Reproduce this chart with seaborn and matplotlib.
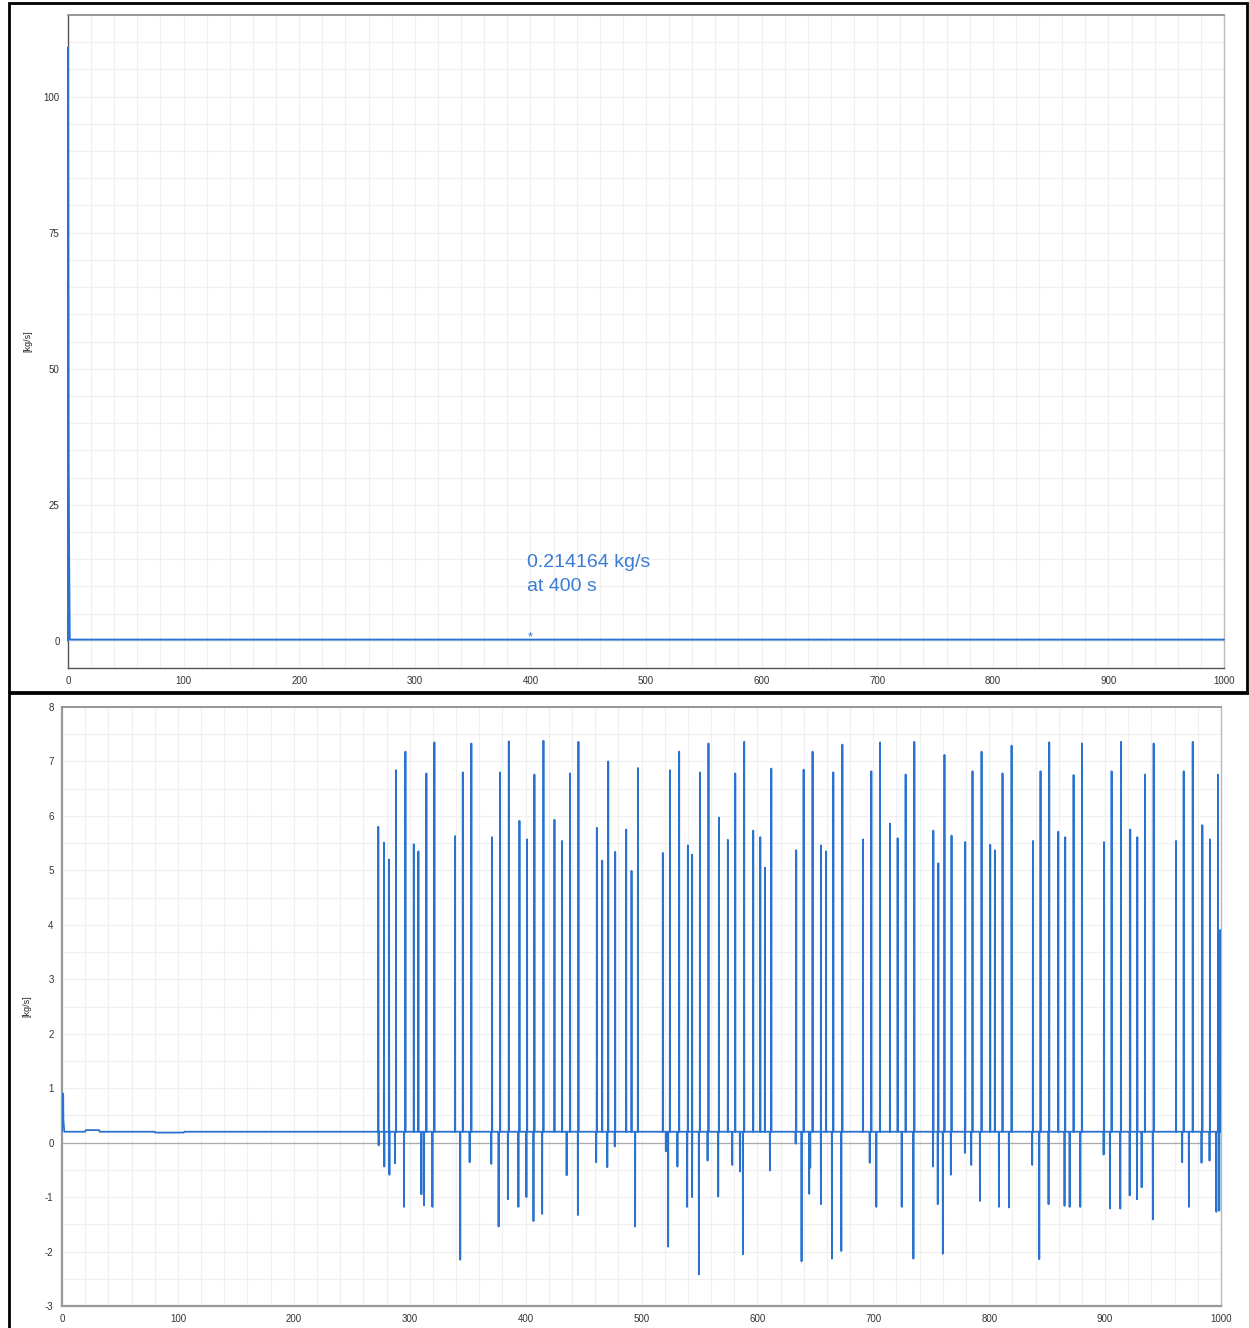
import numpy as np
import pandas as pd
import matplotlib
matplotlib.use("Agg")
import matplotlib.pyplot as plt
import seaborn as sns
from matplotlib.ticker import MultipleLocator
from matplotlib.patches import Rectangle

# top panel: mass flow, start-up transient then flat
top_t = [0.0, 0.0, 0.5, 1.0, 1.5, 2.0, 1000.0]
top_v = [0.0, 109.0, 34.0, 14.0, 0.3, 0.214164, 0.214164]
marker_t = 400
marker_v = 0.214164

# bottom panel: start transient + baseline bumps
start_t = [0.0, 0.0, 1.0, 1.2, 2.0, 20.0, 20.5, 32.0, 32.5, 80.0, 80.5, 105.0, 105.5, 1000.0]
start_v = [0.2, 0.9, 0.9, 0.42, 0.2, 0.2, 0.23, 0.23, 0.2, 0.2, 0.185, 0.185, 0.2, 0.2]
base = 0.2

# positive spikes (time, peak)
peak_t = [272.9, 277.8, 282.2, 288.2, 296.3, 303.5, 307.5, 314.4, 321.3,
          339.1, 345.8, 353.2, 371.1, 378.0, 385.5, 394.7, 401.3, 407.6, 415.4,
          424.9, 431.5, 438.4, 445.6, 461.5, 466.1, 471.3, 477.3, 486.8, 491.4, 496.9,
          518.4, 524.5, 532.5, 540.0, 543.7, 550.4, 557.8, 566.8, 574.5, 580.9, 588.6,
          596.4, 602.5, 606.5, 612.0, 633.5, 639.9, 647.6, 654.8, 659.2, 665.5, 673.3,
          691.1, 698.3, 705.8, 714.4, 721.0, 727.9, 735.4, 751.8, 756.1,
          761.4, 767.5, 779.3, 785.6, 793.4, 800.9, 804.9, 811.5, 819.3,
          837.7, 844.3, 851.8, 859.6, 865.6, 872.8, 880.0,
          899.0, 905.6, 913.7, 921.7, 927.8, 934.4, 941.9,
          961.2, 967.8, 975.6, 983.9, 990.5, 997.4, 999.3]
peak_v = [5.80, 5.51, 5.20, 6.84, 7.18, 5.48, 5.35, 6.78, 7.35,
          5.63, 6.80, 7.33, 5.61, 6.80, 7.37, 5.91, 5.57, 6.76, 7.38,
          5.93, 5.54, 6.78, 7.36, 5.78, 5.18, 7.00, 5.34, 5.75, 4.99, 6.88,
          5.32, 6.84, 7.18, 5.46, 5.29, 6.80, 7.33, 5.97, 5.56, 6.78, 7.36,
          5.73, 5.61, 5.05, 6.87, 5.37, 6.85, 7.18, 5.46, 5.35, 6.80, 7.31,
          5.57, 6.82, 7.35, 5.86, 5.59, 6.76, 7.36, 5.73, 5.13,
          7.12, 5.64, 5.52, 6.82, 7.18, 5.47, 5.37, 6.78, 7.29,
          5.54, 6.82, 7.35, 5.71, 5.61, 6.75, 7.33,
          5.52, 6.82, 7.36, 5.75, 5.61, 6.76, 7.33,
          5.54, 6.82, 7.36, 5.83, 5.57, 6.76, 3.9]

# negative dips (time, trough)
dip_t = [273.2, 278.1, 282.5, 287.3, 295.1, 310.1, 312.4, 319.6,
         343.6, 351.7, 370.4, 376.7, 384.7, 393.8, 400.7, 406.8, 414.3,
         435.4, 445.1, 460.9, 470.5, 476.9, 494.5,
         521.0, 523.0, 531.0, 539.4, 543.7, 549.5, 557.0, 566.2, 578.3, 584.9, 587.5,
         610.8, 633.0, 638.1, 644.7, 645.6, 654.8, 664.3, 672.4,
         696.9, 702.6, 724.5, 734.6, 751.5, 755.6,
         760.0, 766.9, 779.0, 784.5, 792.0, 808.4, 817.0,
         837.1, 843.2, 851.2, 865.0, 869.4, 878.6,
         898.7, 904.2, 913.1, 921.2, 927.5, 931.5, 941.2,
         966.5, 972.3, 983.2, 990.1, 996.0, 998.5]
dip_v = [-0.05, -0.44, -0.59, -0.38, -1.18, -0.95, -1.15, -1.18,
         -2.15, -0.36, -0.39, -1.54, -1.04, -1.18, -1.00, -1.44, -1.31,
         -0.60, -1.33, -0.36, -0.45, -0.07, -1.54,
         -0.16, -1.91, -0.44, -1.18, -1.00, -2.42, -0.33, -0.99, -0.41, -0.53, -2.05,
         -0.51, -0.02, -2.18, -0.94, -0.46, -1.13, -2.13, -1.99,
         -0.37, -1.18, -1.18, -2.13, -0.44, -1.13,
         -2.04, -0.59, -0.19, -0.41, -1.07, -1.18, -1.19,
         -0.41, -2.14, -1.13, -1.16, -1.18, -1.18,
         -0.22, -1.21, -1.21, -0.97, -1.04, -0.82, -1.41,
         -0.36, -1.18, -0.37, -0.33, -1.27, -1.25]

end_t = [999.6, 999.8, 1000.0]
end_v = [3.9, 2.75, 2.75]

blue = "#2a72d0"
W, H = 1249, 1328

# build the bottom series from the lists
ev = sorted(list(zip(peak_t, peak_v)) + list(zip(dip_t, dip_v)))
bt = list(start_t[:-1])
bv = list(start_v[:-1])
for t, v in ev:
    bt += [t - 0.12, t, t + 0.12]
    bv += [base, v, base]
bt += end_t
bv += end_v
bottom = pd.DataFrame({"t": bt, "v": bv})
top = pd.DataFrame({"t": top_t, "v": top_v})

sns.set_style("white")
plt.rcParams["font.family"] = ["Liberation Sans", "DejaVu Sans"]
plt.rcParams["axes.unicode_minus"] = False

fig = plt.figure(figsize=(W / 100, H / 100), dpi=100)


def fx(px):
    return px / W


def fy(py):
    return 1 - py / H


ax1 = fig.add_axes([fx(68), fy(668), fx(1224 - 68), (668 - 15) / H])
ax2 = fig.add_axes([fx(62), fy(1306), fx(1221 - 62), (1306 - 707) / H])


def style(ax, ymaj, ymin, spine_col, spine_w, lab_x):
    ax.set_xlim(0, 1000)
    ax.xaxis.set_major_locator(MultipleLocator(100))
    ax.xaxis.set_minor_locator(MultipleLocator(20))
    ax.yaxis.set_major_locator(MultipleLocator(ymaj))
    ax.yaxis.set_minor_locator(MultipleLocator(ymin))
    ax.grid(which="both", color="#f0f0f0", lw=0.9)
    ax.set_axisbelow(True)
    ax.tick_params(which="both", length=4, width=0.8, color=spine_col,
                   labelsize=7, labelcolor="#333333", pad=2)
    for s in ["left", "bottom"]:
        ax.spines[s].set_color(spine_col)
        ax.spines[s].set_linewidth(spine_w)
    ax.spines["top"].set_color("#888888")
    ax.spines["top"].set_linewidth(1.2)
    ax.spines["right"].set_color("#bbbbbb")
    ax.spines["right"].set_linewidth(1.0)
    ax.set_xlabel("")
    ax.set_ylabel("[kg/s]", fontsize=6.5, color="#222222")
    ax.yaxis.set_label_coords(lab_x, 0.5)


sns.lineplot(data=top, x="t", y="v", ax=ax1, sort=False, estimator=None,
             color=blue, lw=1.4)
for ln in ax1.lines:
    ln.set_clip_on(False)
    ln.set_zorder(5)
ax1.set_ylim(-5, 115)
style(ax1, 25, 5, "#555555", 1.0, -0.031)
ax1.text(marker_t, marker_v + 0.4, "*", color=blue, fontsize=9,
         ha="center", va="center")
ax1.text(397, 16.0, "0.214164 kg/s\nat 400 s", color="#3a7bd5", fontsize=14,
         ha="left", va="top", linespacing=1.55)

ax2.axhline(0, color="#aaaaaa", lw=0.9, zorder=1)
sns.lineplot(data=bottom, x="t", y="v", ax=ax2, sort=False, estimator=None,
             color=blue, lw=1.3)
for ln in ax2.lines[1:]:
    ln.set_zorder(5)
ax2.set_ylim(-3, 8)
style(ax2, 1, 0.5, "#999999", 1.6, -0.026)

# black frames around the two panels
fig.add_artist(Rectangle((fx(9), fy(692)), fx(1247 - 9), (692 - 3) / H,
                         transform=fig.transFigure, fill=False,
                         edgecolor="black", lw=2))
fig.add_artist(Rectangle((fx(9), fy(1330)), fx(1250 - 9), (1330 - 693) / H,
                         transform=fig.transFigure, fill=False,
                         edgecolor="black", lw=2))

fig.savefig("out.png", dpi=100)
